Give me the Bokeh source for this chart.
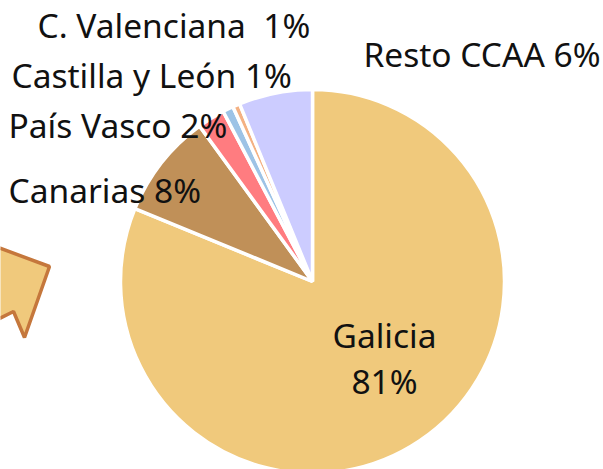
import math
from bokeh.plotting import figure
from bokeh.models import Range1d, ColumnDataSource
from bokeh.core.properties import value
from bokeh.embed import file_html
from bokeh.resources import INLINE

# --- data ---
regions = ["Galicia", "Canarias", "País Vasco", "Castilla y León", "C. Valenciana", "Resto CCAA"]
shares = [81.2, 8.8, 2.3, 0.9, 0.6, 6.2]
colors = ["#F0C97C", "#C09058", "#FF7C80", "#9DC3E6", "#F4B183", "#CCCCFF"]
label_texts = ["Galicia", "81%", "Canarias 8%", "País Vasco 2%", "Castilla y León 1%",
               "C. Valenciana\u00a0\u00a01%", "Resto CCAA 6%"]

W, H = 603, 469
p = figure(width=W, height=H, output_backend="svg", toolbar_location=None,
           x_range=Range1d(0, W), y_range=Range1d(-H, 0),
           min_border=0, outline_line_color=None)
p.axis.visible = False
p.grid.visible = False
p.background_fill_color = "white"

# pie: starts at 12 o'clock, clockwise
cx, cy, r = 312, -281, 192
total = sum(shares)
starts, ends = [], []
cum = 0.0
for s in shares:
    a0 = cum / total * 2 * math.pi
    cum += s
    a1 = cum / total * 2 * math.pi
    starts.append(math.pi / 2 - a1)
    ends.append(math.pi / 2 - a0)

src = ColumnDataSource(dict(start=starts, end=ends, color=colors, region=regions))
p.wedge(x=cx, y=cy, radius=r, start_angle="start", end_angle="end",
        fill_color="color", line_color="white", line_width=3.5, source=src)

# decorative block arrow on the left (partially cut off)
p.patch(x=[-5, 49, 24, 13, -5], y=[-246, -266, -337, -311, -320],
        fill_color="#F0C97C", line_color="#C5773C", line_width=3.5)

# labels
lx = [384, 384, 8, 8, 11, 37, 363]
ly = [-334, -380, -189, -124, -74, -24, -53]
la = ["center", "center", "left", "left", "left", "left", "left"]
lsrc = ColumnDataSource(dict(x=lx, y=ly, t=label_texts, a=la))
p.text(x="x", y="y", text="t", text_align="a", text_baseline="alphabetic",
       text_font=value("Noto Sans"), text_font_size="33.5px", text_color="#111111",
       source=lsrc)

open("out.html", "w").write(file_html(p, INLINE))
